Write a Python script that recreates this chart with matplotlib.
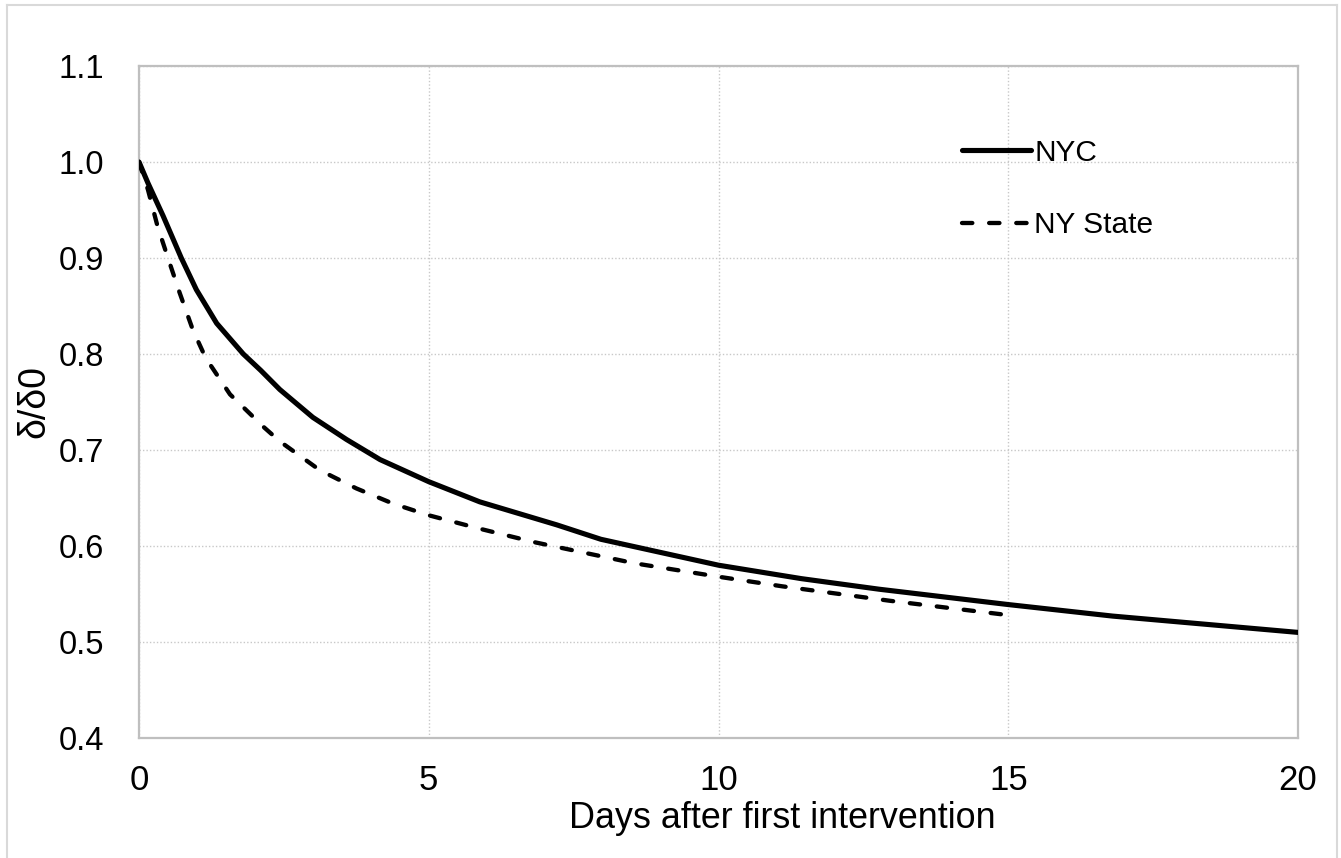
import matplotlib
matplotlib.use("Agg")
import matplotlib.pyplot as plt
from matplotlib.lines import Line2D
from matplotlib.ticker import FormatStrFormatter

# Data
nyc_days = [0, 0.155, 0.415, 0.73, 0.99, 1.34, 1.8, 2.1, 2.43, 3.0, 3.58, 4.16, 5.0, 5.88,
            7.21, 7.97, 10.0, 11.43, 12.77, 15.0, 16.8, 20.0]
nyc_vals = [1.0, 0.978, 0.944, 0.900, 0.867, 0.832, 0.800, 0.783, 0.763, 0.734, 0.711, 0.690,
            0.667, 0.646, 0.622, 0.607, 0.580, 0.566, 0.555, 0.539, 0.527, 0.510]

nys_days = [0, 0.155, 0.32, 0.50, 0.70, 0.93, 1.15, 1.57, 2.15, 2.43, 3.12, 3.75, 4.39, 5.0,
            5.88, 6.82, 8.55, 10.0, 11.1, 12.95, 15.0]
nys_vals = [1.0, 0.971, 0.933, 0.900, 0.864, 0.825, 0.796, 0.758, 0.724, 0.709, 0.679, 0.660,
            0.644, 0.632, 0.618, 0.604, 0.582, 0.568, 0.558, 0.543, 0.528]

x_ticks = [0, 5, 10, 15, 20]
y_ticks = [0.4, 0.5, 0.6, 0.7, 0.8, 0.9, 1.0, 1.1]
series_labels = ["NYC", "NY State"]
x_label = "Days after first intervention"
y_label = "δ/δ0"

plt.rcParams['font.family'] = ['Liberation Sans', 'DejaVu Sans']

W, H = 1341, 858
fig = plt.figure(figsize=(W / 100, H / 100), dpi=100)
ax = fig.add_axes([139 / W, 1 - 738 / H, (1298 - 139) / W, (738 - 66) / H])

ax.plot(nyc_days, nyc_vals, color='black', lw=3.7, solid_capstyle='round',
        solid_joinstyle='round', label=series_labels[0], zorder=3)
ax.plot(nys_days, nys_vals, color='black', lw=3.1, linestyle=(0, (2.4, 3.9)),
        dash_capstyle='round', dash_joinstyle='round', label=series_labels[1], zorder=3)

ax.set_xlim(0, 20)
ax.set_ylim(0.4, 1.1)
ax.set_xticks(x_ticks)
ax.set_yticks(y_ticks)
ax.yaxis.set_major_formatter(FormatStrFormatter('%.1f'))
ax.tick_params(length=0)
ax.tick_params(axis='x', pad=19, labelsize=25)
ax.tick_params(axis='y', pad=25, labelsize=23.5)
ax.grid(True, color='#C8C8C8', linestyle=(0, (1, 1.5)), lw=1.0, zorder=0)
ax.set_axisbelow(True)
for s in ax.spines.values():
    s.set_color('#BFBFBF')
    s.set_linewidth(1.6)

ax.set_xlabel(x_label, fontsize=25.8)
ax.xaxis.set_label_coords(0.555, -0.094)
ax.set_ylabel(y_label, fontsize=27)
ax.yaxis.set_label_coords(-0.075, 0.5)

leg = ax.legend(loc='upper left', bbox_to_anchor=(0.710, 0.892), frameon=False,
                fontsize=21.5, handlelength=2.33, handletextpad=0.1,
                labelspacing=1.5, borderpad=0, borderaxespad=0)

# chart area border (light gray)
border = dict(color='#D9D9D9', lw=1.5, transform=fig.transFigure)
fig.add_artist(Line2D([7 / W, 7 / W], [0, 1 - 5 / H], **border))
fig.add_artist(Line2D([7 / W, 1337 / W], [1 - 5 / H, 1 - 5 / H], **border))
fig.add_artist(Line2D([1337 / W, 1337 / W], [0, 1 - 5 / H], **border))

fig.savefig("out.png", dpi=100)
